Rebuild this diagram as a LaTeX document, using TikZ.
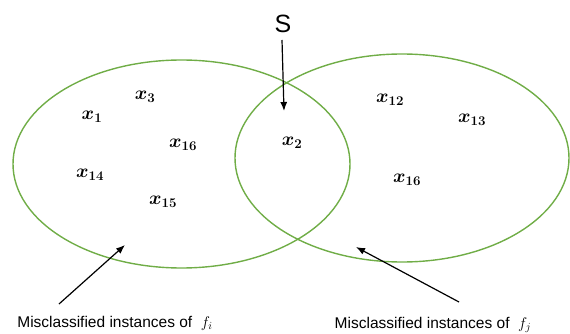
\RequirePackage{fix-cm}
\documentclass[tikz,border=0pt]{standalone}
\usepackage{fontspec}
\usepackage{amsmath}
\usetikzlibrary{arrows.meta}
\setsansfont{Liberation Sans}
\definecolor{vgreen}{HTML}{70AD47}
\begin{document}
\begin{tikzpicture}[x=1pt,y=-1pt,
  venn/.style={draw=vgreen,line width=1.4pt},
  arr/.style={draw=black,line width=1.2pt,-{Latex[length=9pt,width=7pt]}},
  el/.style={font=\fontsize{19}{22}\selectfont\boldmath,inner sep=0pt},
  lab/.style={font=\fontsize{15.5}{18}\selectfont\sffamily,inner sep=0pt}]
\useasboundingbox (0,0) rectangle (570,334);
\draw[venn] (181.5,164) ellipse [x radius=168.5, y radius=104];
\draw[venn] (402,158) ellipse [x radius=167, y radius=104];
% elements
\node[el] (x3) at (145,97) {$x_{3}$};
\node[el] (x1) at (92,117) {$x_{1}$};
\node[el] (x16a) at (183,145) {$x_{16}$};
\node[el] (x14) at (90,175) {$x_{14}$};
\node[el] (x15) at (163,202) {$x_{15}$};
\node[el] (x2) at (292,143) {$x_{2}$};
\node[el] (x12) at (390,100) {$x_{12}$};
\node[el] (x13) at (472,120) {$x_{13}$};
\node[el] (x16b) at (407,180) {$x_{16}$};
% S
\node[font=\fontsize{25}{28}\selectfont\sffamily,inner sep=0pt] (S) at (283,24) {S};
\coordinate (sT) at (282,40);
\coordinate (sH) at (284,111);
\draw[arr] (sT) -- (sH);
% labels
\node[lab] (la) at (115,323) {Misclassified instances of \ $f_i$};
\node[lab] (lb) at (433,325) {Misclassified instances of \ $f_j$};
\coordinate (aT) at (59,304);
\coordinate (aH) at (125,245);
\draw[arr] (aT) -- (aH);
\coordinate (bT) at (459,302);
\coordinate (bH) at (356,247);
\draw[arr] (bT) -- (bH);
\end{tikzpicture}
\end{document}
